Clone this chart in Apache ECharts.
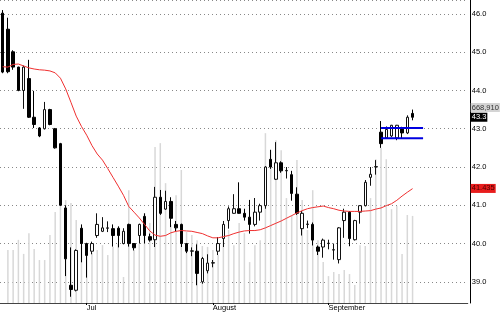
<!DOCTYPE html>
<html><head><meta charset="utf-8">
<script src="https://cdn.jsdelivr.net/npm/echarts@6/dist/echarts.min.js"></script>
<style>html,body{margin:0;padding:0;background:#fff}#c{width:500px;height:312px}</style>
</head><body><div id="c"></div>
<script>
// ---- data ----
const opens  = [46.02,45.60,45.01,44.61,44.00,44.31,43.30,43.02,43.00,43.50,
                43.00,42.61,40.93,38.91,38.78,40.40,40.00,39.80,40.21,40.32,
                40.40,40.39,40.40,40.00,40.50,40.00,40.21,40.71,40.18,40.10,
                41.21,40.90,41.10,40.50,40.50,40.00,39.80,39.80,39.00,39.29,
                39.49,39.80,40.13,40.60,40.79,40.91,40.79,40.69,40.50,40.82,
                40.99,42.20,41.68,42.11,41.90,41.80,41.29,40.39,40.50,40.50,
                39.91,39.91,40.00,39.83,39.58,40.60,40.82,40.10,40.82,40.99,
                41.73,42.00,42.91,42.76,42.81,42.76,42.99,42.89,43.40];
const closes = [44.48,44.49,44.61,44.00,44.61,43.30,43.11,42.81,43.50,43.11,
                42.50,41.00,39.60,38.80,39.82,40.00,39.69,40.00,40.50,40.41,
                40.41,40.21,40.21,40.32,40.00,39.89,40.50,40.21,40.09,41.21,
                40.79,41.10,40.66,40.41,40.00,39.80,39.81,39.22,39.61,39.49,
                39.50,40.00,40.50,40.91,40.91,40.79,40.69,40.50,40.82,40.99,
                42.00,42.00,42.11,41.90,41.91,41.31,40.79,40.79,40.51,40.09,
                39.80,40.09,40.01,39.84,40.41,40.82,40.13,40.60,40.99,41.60,
                41.81,42.01,42.61,42.98,43.09,43.09,42.89,43.30,43.30];
const lows   = [44.45,44.45,44.54,43.98,43.52,43.28,43.02,42.78,42.98,43.09,
                42.48,40.98,39.15,38.61,38.75,39.51,39.11,39.72,40.15,40.30,
                40.30,39.92,39.90,39.98,39.92,39.82,40.00,40.00,40.05,39.91,
                40.75,40.88,40.43,40.32,39.91,39.75,39.67,38.91,38.95,39.22,
                39.38,39.70,39.91,40.39,40.78,40.78,40.60,40.26,40.45,40.60,
                40.91,41.95,41.66,41.85,41.70,41.12,40.75,40.21,40.40,39.95,
                39.70,39.63,39.85,39.58,39.48,40.15,39.93,40.08,40.52,40.97,
                41.51,41.80,42.50,42.74,42.78,42.70,42.74,42.86,43.22];
const highs  = [46.10,45.90,45.05,44.62,44.65,44.80,43.99,43.04,43.70,43.52,
                43.02,42.63,41.00,39.90,39.85,40.50,40.02,40.05,40.79,40.69,
                40.58,40.50,40.45,40.40,40.52,40.01,40.52,40.79,40.26,41.48,
                41.40,41.38,41.21,40.59,40.52,40.00,39.90,39.98,39.65,39.72,
                39.57,40.17,40.59,40.97,41.29,41.60,40.91,41.14,41.19,41.04,
                42.02,42.45,42.65,42.15,42.00,41.90,41.47,40.85,40.60,40.55,
                39.95,40.13,40.10,40.00,40.43,40.91,40.85,40.62,41.00,41.66,
                42.00,42.18,43.20,43.06,43.10,43.10,43.05,43.35,43.50];
// volume in thousands of shares
const volumes = [null,181,181,216,168,239,185,147,147,233,
                 311,339,352,342,284,195,181,171,181,198,
                 164,192,202,89,386,181,202,308,274,534,
                 547,410,267,369,455,243,233,215,195,192,
                 181,164,215,250,198,274,239,140,198,215,
                 581,523,557,523,359,301,489,352,250,386,
                 215,140,92,106,99,113,99,62,198,195,
                 359,492,530,492,321,332,168,301,298];
const movingAvg = [44.62,44.61,44.68,44.69,44.64,44.59,44.56,44.54,44.53,44.51,
                   44.46,44.32,44.04,43.69,43.33,43.06,42.83,42.56,42.34,42.18,
                   41.96,41.73,41.50,41.26,40.97,40.82,40.67,40.50,40.33,40.22,
                   40.19,40.21,40.28,40.32,40.34,40.33,40.32,40.29,40.26,40.20,
                   40.15,40.15,40.18,40.21,40.26,40.30,40.33,40.34,40.34,40.36,
                   40.41,40.47,40.53,40.59,40.66,40.73,40.80,40.86,40.91,40.94,
                   40.96,40.98,40.94,40.91,40.87,40.85,40.84,40.84,40.84,40.85,
                   40.86,40.90,40.93,40.99,41.04,41.13,41.24,41.34,41.435];
const blueLevels = [43.02, 42.75];
const blueRange = [72, 80];           // category positions of the blue segments
const tickIdx = [16, 40, 62];
const tickLabels = ['Jul', 'August', 'September'];
const slotCount = 89;                 // trading-day slots on the axis (incl. empty right margin)
const lastClose = 43.3, lastMA = 41.435, volMark = 668.91;

// ---- chart ----
const categories = Array.from({length: slotCount}, (_, i) => 'd' + i);
const candleData = opens.map((o, i) => [o, closes[i], lows[i], highs[i]]);
const FONT = 'Liberation Sans';
const chart = echarts.init(document.getElementById('c'), null, {renderer: 'canvas'});
const hiddenLine = {color: 'rgba(0,0,0,0)', width: 0};
function tagLine(value, text, bg, fg) {
  return {
    symbol: 'none', silent: true, animation: false,
    lineStyle: hiddenLine,
    label: {show: true, position: 'end', formatter: text, backgroundColor: bg, color: fg,
            padding: [1, 1, 0, 1], fontSize: 7.5, fontFamily: FONT, distance: 3},
    emphasis: {disabled: true},
    data: [{yAxis: value}]
  };
}
chart.setOption({
  animation: false,
  backgroundColor: '#fff',
  grid: {left: -3.95, right: 32.25, top: -2, bottom: 9},
  xAxis: {
    type: 'category', data: categories, boundaryGap: true,
    axisLine: {show: true, lineStyle: {color: '#444', width: 1}},
    axisTick: {show: true, alignWithLabel: true, interval: (i) => tickIdx.includes(i), length: 2,
               lineStyle: {color: '#000'}},
    axisLabel: {interval: (i) => tickIdx.includes(i),
                formatter: (v, i) => tickLabels[tickIdx.indexOf(i)],
                align: 'left', margin: 1, fontSize: 7.5, color: '#000', fontFamily: FONT},
    splitLine: {show: false}
  },
  yAxis: [{
    type: 'value', position: 'right', min: 38.447, max: 46.363,
    splitNumber: 8, minInterval: 1, maxInterval: 1, offset: 2,
    axisLine: {show: true, lineStyle: {color: '#000', width: 1}},
    axisTick: {show: false},
    axisLabel: {margin: 2, fontSize: 7.5, color: '#000', fontFamily: FONT,
                formatter: (v) => (Math.abs(v - Math.round(v)) < 1e-6 ? v.toFixed(1) : ''),
                showMinLabel: false, showMaxLabel: false},
    splitLine: {show: true, lineStyle: {color: '#888', type: [1, 3], width: 1}}
  }, {
    type: 'value', min: 0, max: 1036.7, show: false, splitLine: {show: false}
  }],
  series: [
    {
      name: 'Volume', type: 'bar', yAxisIndex: 1, data: volumes, barWidth: 1.5,
      itemStyle: {color: '#d8d8d8'}, silent: true, z: 1,
      markLine: tagLine(volMark, '668,910', '#d4d4d4', '#333')
    },
    {
      name: 'Price', type: 'candlestick', data: candleData, barWidth: 3, z: 3,
      itemStyle: {color: '#fff', color0: '#000', borderColor: '#111', borderColor0: '#000', borderWidth: 1},
      markLine: tagLine(lastClose, '43.3', '#000', '#fff')
    },
    {
      name: 'MA', type: 'line', data: movingAvg, symbol: 'none', z: 4,
      lineStyle: {color: '#f03030', width: 1}, silent: true,
      markLine: tagLine(lastMA, '41.435', '#e81c1c', '#4a0000')
    },
    ...blueLevels.map((lv) => ({
      type: 'line', data: [[blueRange[0], lv], [blueRange[1], lv]], symbol: 'none', z: 5,
      lineStyle: {color: '#0000e0', width: 2}, silent: true
    }))
  ]
});
</script>
</body></html>
